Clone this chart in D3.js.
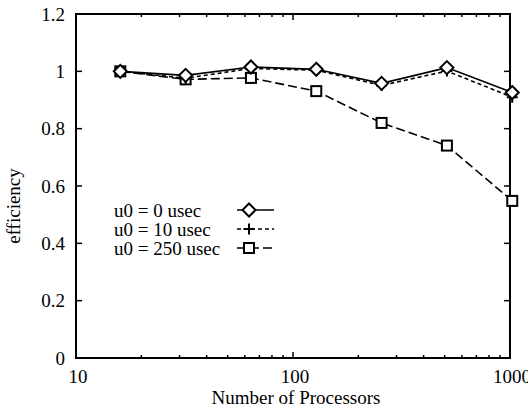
<!DOCTYPE html>
<html>
<head>
<meta charset="utf-8">
<script src="https://cdn.jsdelivr.net/npm/d3@7"></script>
<style>
  html, body { margin: 0; padding: 0; background: #fff; }
  svg { display: block; }
  text { font-family: "Liberation Serif", "DejaVu Serif", serif; fill: #000; }
</style>
</head>
<body>
<svg id="chart" width="528" height="408"></svg>
<script>
// Processor counts on the x axis
const processors = [16, 32, 64, 128, 256, 512, 1024];
// Efficiency for each startup latency
const eff0 = [1.0, 0.986, 1.015, 1.007, 0.958, 1.013, 0.926];
const eff10 = [1.0, 0.976, 1.010, 1.004, 0.951, 1.001, 0.910];
const eff250 = [1.0, 0.972, 0.977, 0.931, 0.820, 0.741, 0.548];
const seriesNames = ["u0 = 0 usec", "u0 = 10 usec", "u0 = 250 usec"];
const yTicks = [0, 0.2, 0.4, 0.6, 0.8, 1, 1.2];
const xTicks = [10, 100, 1000];

const svg = d3.select("#chart");
const plotL = 76, plotR = 510, plotT = 14, plotB = 358;

const x = d3.scaleLog().domain([10, 1000]).range([plotL, plotR]);
const y = d3.scaleLinear().domain([0, 1.2]).range([plotB, plotT]);

const series = [
  { name: seriesNames[0], values: eff0, dash: null, marker: "diamond" },
  { name: seriesNames[1], values: eff10, dash: "4,3", marker: "plus" },
  { name: seriesNames[2], values: eff250, dash: "9,4", marker: "square" }
];

// Frame
svg.append("rect")
  .attr("x", plotL).attr("y", plotT)
  .attr("width", plotR - plotL).attr("height", plotB - plotT)
  .attr("fill", "none").attr("stroke", "#000").attr("stroke-width", 2);

// Y ticks (left and mirrored right), inward
const g = svg.append("g").attr("stroke", "#000").attr("stroke-width", 1.5);
yTicks.forEach(t => {
  g.append("line").attr("x1", plotL).attr("x2", plotL + 6).attr("y1", y(t)).attr("y2", y(t));
  g.append("line").attr("x1", plotR).attr("x2", plotR - 6).attr("y1", y(t)).attr("y2", y(t));
});
svg.selectAll(".ylab").data(yTicks).enter().append("text")
  .attr("x", plotL - 11).attr("y", d => y(d))
  .attr("dy", "0.35em").attr("text-anchor", "end")
  .attr("font-size", 19)
  .text(d => d3.format("~g")(d));

// X ticks: majors and log minors on bottom and top
const minors = [];
[10, 100].forEach(dec => { for (let k = 2; k <= 9; k++) minors.push(dec * k); });
xTicks.forEach(t => {
  g.append("line").attr("x1", x(t)).attr("x2", x(t)).attr("y1", plotB).attr("y2", plotB - 6);
  g.append("line").attr("x1", x(t)).attr("x2", x(t)).attr("y1", plotT).attr("y2", plotT + 6);
});
minors.forEach(t => {
  g.append("line").attr("x1", x(t)).attr("x2", x(t)).attr("y1", plotB).attr("y2", plotB - 3);
  g.append("line").attr("x1", x(t)).attr("x2", x(t)).attr("y1", plotT).attr("y2", plotT + 3);
});
svg.selectAll(".xlab").data(xTicks).enter().append("text")
  .attr("x", d => x(d) + 2).attr("y", plotB + 25)
  .attr("text-anchor", "middle").attr("font-size", 19)
  .text(d => d);

// Axis titles
svg.append("text").attr("x", 296).attr("y", 404)
  .attr("text-anchor", "middle").attr("font-size", 19)
  .text("Number of Processors");
svg.append("text")
  .attr("transform", `translate(20,${(plotT + plotB) / 2 + 20}) rotate(-90)`)
  .attr("text-anchor", "middle").attr("font-size", 19)
  .text("efficiency");

// Marker drawing helper
function drawMarker(sel, type, cx, cy) {
  if (type === "diamond") {
    const r = 6.5;
    sel.append("path")
      .attr("d", `M${cx},${cy - r}L${cx + r},${cy}L${cx},${cy + r}L${cx - r},${cy}Z`)
      .attr("fill", "#fff").attr("stroke", "#000").attr("stroke-width", 2);
  } else if (type === "square") {
    const r = 5;
    sel.append("rect").attr("x", cx - r).attr("y", cy - r)
      .attr("width", 2 * r).attr("height", 2 * r)
      .attr("fill", "#fff").attr("stroke", "#000").attr("stroke-width", 2);
  } else {
    const r = 5.5;
    sel.append("path")
      .attr("d", `M${cx - r},${cy}H${cx + r}M${cx},${cy - r}V${cy + r}`)
      .attr("fill", "none").attr("stroke", "#000").attr("stroke-width", 2);
  }
}

const line = d3.line().x(d => x(d[0])).y(d => y(d[1]));

// Lines first, then markers on top (plot order: 250, 10, 0)
const plot = svg.append("g");
series.slice().reverse().forEach(s => {
  const pts = processors.map((p, i) => [p, s.values[i]]);
  plot.append("path").datum(pts)
    .attr("d", line)
    .attr("fill", "none").attr("stroke", "#000").attr("stroke-width", 1.6)
    .attr("stroke-dasharray", s.dash);
});
series.slice().reverse().forEach(s => {
  processors.forEach((p, i) => drawMarker(plot, s.marker, x(p), y(s.values[i])));
});

// Legend
const legY = [210, 229, 248];
series.forEach((s, i) => {
  svg.append("text").attr("x", 114).attr("y", legY[i]).attr("dy", "0.35em")
    .attr("font-size", 19).text(s.name);
  svg.append("line").attr("x1", 237).attr("x2", 274).attr("y1", legY[i]).attr("y2", legY[i])
    .attr("stroke", "#000").attr("stroke-width", 1.6).attr("stroke-dasharray", s.dash);
  drawMarker(svg, s.marker, 249, legY[i]);
});
</script>
</body>
</html>
